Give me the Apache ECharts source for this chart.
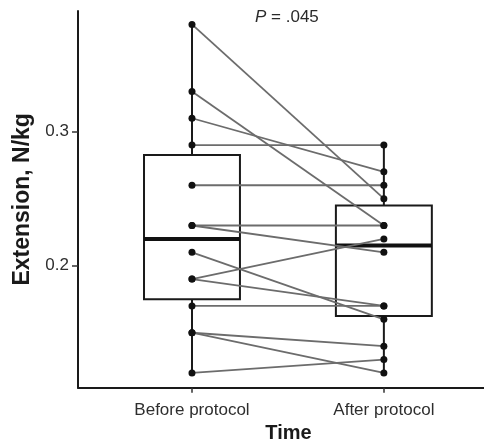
<!DOCTYPE html>
<html><head><meta charset="utf-8">
<script src="https://cdn.jsdelivr.net/npm/echarts@6/dist/echarts.min.js"></script>
<style>html,body{margin:0;padding:0;background:#fff}#c{width:484px;height:443px}</style>
</head><body><div id="c"></div>
<script>
const categories = ['Before protocol', 'After protocol'];
// paired subject values (before -> after)
const beforeValues = [0.38, 0.33, 0.31, 0.29, 0.26, 0.23, 0.23, 0.21, 0.19, 0.19, 0.17, 0.15, 0.15, 0.12];
const afterValues  = [0.25, 0.23, 0.27, 0.29, 0.26, 0.23, 0.21, 0.16, 0.22, 0.17, 0.17, 0.14, 0.12, 0.13];
const yTickValues = [0.2, 0.3];
const xTickValues = [1, 2];
const pValueText = '.045';
const xTitle = 'Time';
const yTitle = 'Extension, N/kg';

function quantile(sorted, p) {
  const h = (sorted.length - 1) * p;
  const lo = Math.floor(h), hi = Math.ceil(h);
  return sorted[lo] + (sorted[hi] - sorted[lo]) * (h - lo);
}
function boxStats(vals) {
  const s = vals.slice().sort((a, b) => a - b);
  const q1 = quantile(s, 0.25), med = quantile(s, 0.5), q3 = quantile(s, 0.75);
  const iqr = q3 - q1;
  const inLo = s.filter(v => v >= q1 - 1.5 * iqr);
  const inHi = s.filter(v => v <= q3 + 1.5 * iqr);
  return [inLo[0], q1, med, q3, inHi[inHi.length - 1]];
}
const groups = [beforeValues, afterValues];
const boxData = groups.map((g, i) => [xTickValues[i]].concat(boxStats(g)));

const FONT = "'Liberation Sans', Arial, sans-serif";
const chart = echarts.init(document.getElementById('c'), null, {renderer: 'canvas'});

const pairSeries = beforeValues.map((b, i) => ({
  type: 'line',
  data: [[xTickValues[0], b], [xTickValues[1], afterValues[i]]],
  symbol: 'none',
  lineStyle: {color: '#6c6c6c', width: 1.8},
  z: 3, silent: true
}));

const pointData = [];
beforeValues.forEach(v => pointData.push([xTickValues[0], v]));
afterValues.forEach(v => pointData.push([xTickValues[1], v]));

chart.setOption({
  animation: false,
  backgroundColor: '#fff',
  title: {
    text: '{i|P} = ' + pValueText,
    left: 255, top: 9, padding: 0,
    textStyle: {
      fontFamily: FONT, fontSize: 17, fontWeight: 'normal', color: '#2a2a2a',
      rich: {i: {fontFamily: FONT, fontSize: 17, fontStyle: 'italic', color: '#2a2a2a'}}
    }
  },
  grid: {left: 78, right: -15, top: 11, bottom: 55.3, containLabel: false, outerBoundsMode: 'none'},
  xAxis: {
    type: 'value', min: 0.406, max: 2.6,
    axisLine: {show: true, onZero: false, lineStyle: {color: '#1a1a1a', width: 2}},
    axisTick: {show: true, customValues: xTickValues, length: 5, lineStyle: {color: '#333', width: 1.5}},
    axisLabel: {show: true, customValues: xTickValues, formatter: v => categories[Math.round(v) - 1],
      fontFamily: FONT, fontSize: 17, color: '#2e2e2e', margin: 14},
    splitLine: {show: false},
    name: xTitle, nameLocation: 'middle', nameGap: 34,
    nameTextStyle: {fontFamily: FONT, fontSize: 20, fontWeight: 'bold', color: '#1a1a1a'}
  },
  yAxis: {
    type: 'value', min: 0.109, max: 0.39,
    axisLine: {show: true, onZero: false, lineStyle: {color: '#1a1a1a', width: 2}},
    axisTick: {show: true, customValues: yTickValues, length: 6, lineStyle: {color: '#333', width: 1.5}},
    axisLabel: {show: true, customValues: yTickValues, formatter: v => v.toFixed(1),
      fontFamily: FONT, fontSize: 17, color: '#2e2e2e', margin: 9},
    splitLine: {show: false},
    name: yTitle, nameLocation: 'middle', nameRotate: 90, nameGap: 42,
    nameTextStyle: {fontFamily: FONT, fontSize: 23, fontWeight: 'bold', color: '#1a1a1a'}
  },
  series: [
    {
      type: 'custom',
      data: boxData,
      encode: {x: 0, y: [1, 2, 3, 4, 5]},
      z: 2, silent: true,
      renderItem: function (params, api) {
        const x = api.value(0);
        const pMin = api.coord([x, api.value(1)]);
        const pQ1 = api.coord([x, api.value(2)]);
        const pMed = api.coord([x, api.value(3)]);
        const pQ3 = api.coord([x, api.value(4)]);
        const pMax = api.coord([x, api.value(5)]);
        const half = api.size([0.25, 0])[0];
        const cx = pMed[0];
        const st = {stroke: '#1a1a1a', lineWidth: 2, fill: null};
        return {type: 'group', children: [
          {type: 'line', shape: {x1: cx, y1: pMin[1], x2: cx, y2: pQ1[1]}, style: st},
          {type: 'line', shape: {x1: cx, y1: pQ3[1], x2: cx, y2: pMax[1]}, style: st},
          {type: 'rect', shape: {x: cx - half, y: pQ3[1], width: 2 * half, height: pQ1[1] - pQ3[1]}, style: {stroke: '#1a1a1a', lineWidth: 2, fill: 'rgba(0,0,0,0)'}},
          {type: 'line', shape: {x1: cx - half, y1: pMed[1], x2: cx + half, y2: pMed[1]}, style: {stroke: '#111', lineWidth: 4}}
        ]};
      }
    },
    ...pairSeries,
    {
      type: 'scatter', data: pointData, symbol: 'circle', symbolSize: 7,
      itemStyle: {color: '#111', opacity: 1}, z: 5, silent: true
    }
  ]
});
</script>
</body></html>
